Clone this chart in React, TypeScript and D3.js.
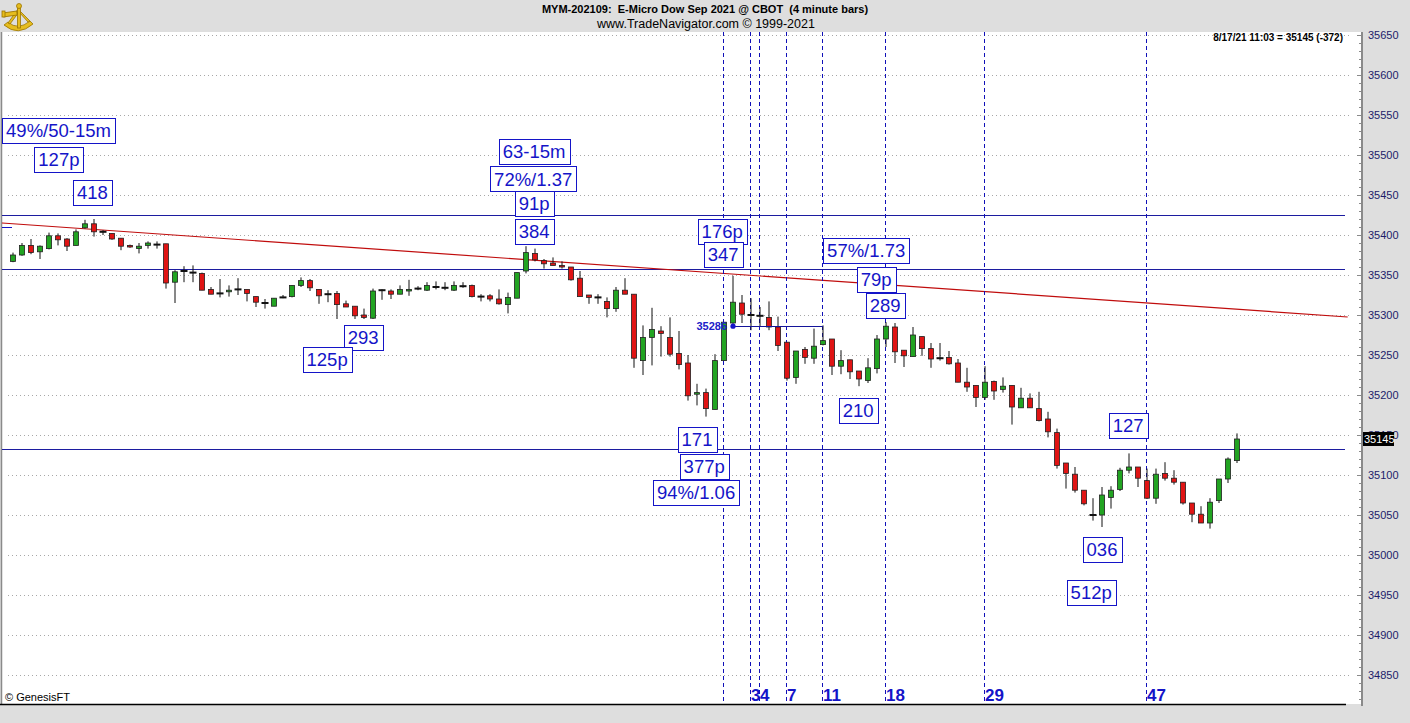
import React, { useEffect, useRef } from 'react';
import * as d3 from 'd3';

const W = 1410;
const H = 723;

// OHLC per 4-minute bar (index 0..136)
const opens = [35367,35375,35387,35379,35383,35399,35395,35387,35409,35414,35404,35402,35396,35387,35383,35387,35388,35389,35341,35355,35353,35352,35332,35327,35329,35332,35332,35323,35315,35311,35322,35323,35337,35343,35332,35326,35327,35314,35311,35300,35296,35331,35330,35326,35330,35333,35331,35335,35334,35331,35336,35337,35323,35324,35320,35313,35321,35355,35377,35368,35365,35362,35360,35346,35325,35322,35317,35308,35331,35326,35243,35272,35280,35272,35252,35240,35201,35203,35182,35243,35290,35315,35300,35299,35297,35285,35266,35222,35257,35246,35263,35270,35236,35244,35230,35218,35233,35270,35285,35256,35248,35273,35258,35246,35247,35240,35216,35212,35197,35217,35207,35212,35184,35196,35183,35170,35153,35115,35101,35081,35050,35050,35072,35082,35106,35110,35093,35071,35102,35096,35091,35065,35051,35040,35068,35095,35118];
const highs = [35378,35390,35395,35387,35403,35402,35396,35407,35419,35420,35406,35402,35396,35388,35390,35392,35392,35389,35356,35361,35362,35353,35335,35345,35337,35346,35332,35323,35320,35321,35325,35337,35347,35345,35332,35331,35330,35318,35311,35308,35333,35332,35332,35337,35344,35336,35341,35342,35341,35342,35341,35338,35326,35326,35332,35328,35353,35386,35383,35370,35372,35367,35360,35355,35325,35326,35322,35335,35346,35326,35287,35309,35286,35297,35280,35250,35214,35208,35251,35291,35349,35325,35321,35310,35317,35298,35266,35255,35260,35283,35287,35270,35256,35244,35230,35246,35275,35291,35290,35256,35285,35273,35265,35265,35255,35245,35234,35212,35236,35218,35222,35212,35209,35202,35204,35179,35158,35115,35110,35081,35071,35085,35086,35109,35127,35110,35108,35108,35116,35106,35091,35065,35061,35071,35095,35122,35152];
const lows = [35366,35374,35376,35370,35382,35387,35380,35387,35408,35398,35400,35394,35381,35384,35377,35383,35383,35333,35315,35341,35341,35331,35326,35322,35323,35325,35317,35310,35308,35311,35321,35322,35335,35330,35314,35316,35295,35310,35295,35295,35295,35319,35320,35326,35324,35331,35330,35332,35331,35330,35334,35322,35317,35317,35313,35302,35321,35352,35367,35358,35362,35358,35343,35323,35314,35314,35297,35304,35326,35234,35225,35237,35248,35248,35232,35193,35187,35173,35182,35243,35289,35290,35281,35285,35281,35255,35218,35214,35239,35239,35262,35225,35226,35220,35211,35215,35227,35260,35240,35235,35248,35249,35234,35243,35238,35216,35204,35185,35194,35194,35203,35163,35184,35184,35167,35147,35108,35083,35078,35062,35043,35035,35058,35080,35102,35085,35070,35064,35093,35088,35063,35041,35040,35033,35065,35090,35115];
const closes = [35375,35387,35378,35386,35399,35394,35386,35404,35414,35404,35404,35395,35386,35385,35386,35390,35388,35340,35354,35355,35353,35331,35326,35327,35331,35332,35327,35316,35315,35321,35322,35337,35343,35334,35324,35326,35313,35310,35299,35297,35330,35331,35326,35332,35332,35333,35337,35335,35334,35337,35336,35323,35323,35320,35314,35322,35353,35378,35369,35364,35362,35360,35344,35323,35322,35322,35308,35331,35326,35246,35272,35282,35277,35251,35238,35199,35203,35183,35243,35291,35316,35301,35300,35299,35285,35262,35221,35255,35247,35261,35268,35236,35243,35229,35220,35234,35270,35286,35254,35249,35275,35258,35245,35246,35239,35216,35210,35197,35216,35205,35211,35185,35196,35184,35168,35154,35112,35102,35081,35064,35050,35075,35081,35106,35110,35096,35071,35101,35096,35091,35065,35051,35040,35066,35095,35120,35145];

const yTicks = [34850,34900,34950,35000,35050,35100,35150,35200,35250,35300,35350,35400,35450,35500,35550,35600,35650];

// horizontal support / resistance levels
const hLevels = [35425, 35357.5, 35132];
// trend line endpoints (bar index, price)
const trendIdx = [-1.45, 148.3];
const trendPrice = [35415, 35297.5];

// vertical time markers
const vIdx = [79, 82, 83, 86, 90, 97, 108, 126];
const vLabels = ['', '3', '4', '7', '11', '18', '29', '47'];

// boxed annotations
const annTexts = ['49%/50-15m','127p','418','63-15m','72%/1.37','91p','384','176p','347','57%/1.73','79p','289','210','293','125p','171','377p','94%/1.06','127','036','512p'];
const annIdx = [5.06,5.1,8.83,57.9,57.8,57.9,57.9,78.8,78.9,94.8,95.9,96.9,93.9,38.9,34.9,76,76.8,75.9,123.9,121,119.8];
const annPrice = [35530.6,35494.4,35453.1,35505,35470,35439.4,35404,35405,35375.6,35380.6,35345,35311.9,35180.6,35271.9,35244.4,35145,35110.6,35078,35161.9,35007.5,34953];

// pivot marker
const markerPrice = 35286;
const markerFrom = 80;
const markerTo = 90;

const lastPrice = 35145;

export default function App() {
  const ref = useRef<SVGSVGElement | null>(null);

  useEffect(() => {
    const svg = d3.select(ref.current);
    svg.selectAll('*').remove();

    const plotL = 2, plotR = 1362, plotT = 32, plotB = 704;
    const x = d3.scaleLinear().domain([0, 136]).range([13, 1237]);
    const y = d3.scaleLinear().domain([34850, 35650]).range([675, 35]);
    const font = 'Arial, Liberation Sans, sans-serif';

    svg.append('rect').attr('width', W).attr('height', H).attr('fill', '#dedede');
    svg.append('rect').attr('x', plotL).attr('y', plotT).attr('width', plotR - plotL).attr('height', plotB - plotT).attr('fill', '#ffffff');
    svg.append('line').attr('x1', 1.5).attr('x2', 1.5).attr('y1', plotT).attr('y2', plotB).attr('stroke', '#8a8a8a').attr('stroke-width', 1.5);

    // dotted gridlines
    svg.append('g').selectAll('line').data(yTicks).join('line')
      .attr('x1', 8).attr('x2', 1352)
      .attr('y1', d => Math.round(y(d)) + 0.5).attr('y2', d => Math.round(y(d)) + 0.5)
      .attr('stroke', '#a8a8a8').attr('stroke-width', 1).attr('stroke-dasharray', '1,3');

    // horizontal levels
    svg.append('g').selectAll('line').data(hLevels).join('line')
      .attr('x1', plotL).attr('x2', 1345)
      .attr('y1', d => Math.round(y(d)) + 0.5).attr('y2', d => Math.round(y(d)) + 0.5)
      .attr('stroke', '#1c1ca0').attr('stroke-width', 1);
    svg.append('line').attr('x1', plotL).attr('x2', 12).attr('y1', Math.round(y(35410)) + 0.5).attr('y2', Math.round(y(35410)) + 0.5)
      .attr('stroke', '#1414c8').attr('stroke-width', 1);

    // trend line
    svg.append('line')
      .attr('x1', Math.max(plotL, x(trendIdx[0]))).attr('y1', y(trendPrice[0]))
      .attr('x2', x(trendIdx[1])).attr('y2', y(trendPrice[1]))
      .attr('stroke', '#c00c0c').attr('stroke-width', 1.2);

    // vertical dashed markers
    svg.append('g').selectAll('line').data(vIdx).join('line')
      .attr('x1', d => Math.round(x(d)) - 0.5).attr('x2', d => Math.round(x(d)) - 0.5)
      .attr('y1', plotT).attr('y2', plotB)
      .attr('stroke', '#1010b8').attr('stroke-width', 1).attr('stroke-dasharray', '4,3');

    // candles
    const idx = d3.range(opens.length);
    const g = svg.append('g');
    g.selectAll('line.w').data(idx).join('line')
      .attr('class', 'w')
      .attr('x1', i => x(i)).attr('x2', i => x(i))
      .attr('y1', i => y(highs[i])).attr('y2', i => y(lows[i]))
      .attr('stroke', '#111').attr('stroke-width', 1);
    const bw = 5;
    idx.forEach(i => {
      const o = opens[i], c = closes[i];
      if (Math.abs(o - c) < 1.5) {
        g.append('rect').attr('x', x(i) - 3.5).attr('y', y(c) - 1).attr('width', 7).attr('height', 2).attr('fill', '#111');
      } else {
        const top = y(Math.max(o, c));
        const bot = y(Math.min(o, c));
        g.append('rect')
          .attr('x', x(i) - bw / 2).attr('y', top).attr('width', bw).attr('height', bot - top)
          .attr('fill', c > o ? '#22a422' : '#e01414')
          .attr('stroke', '#202020').attr('stroke-width', 0.8);
      }
    });

    // pivot marker
    svg.append('line').attr('x1', x(markerFrom)).attr('x2', x(markerTo))
      .attr('y1', Math.round(y(markerPrice)) + 0.5).attr('y2', Math.round(y(markerPrice)) + 0.5)
      .attr('stroke', '#14149a').attr('stroke-width', 1);
    svg.append('circle').attr('cx', x(markerFrom)).attr('cy', y(markerPrice)).attr('r', 2.6).attr('fill', '#1414c8');
    svg.append('text').attr('x', x(markerFrom) - 6).attr('y', y(markerPrice) + 4)
      .attr('text-anchor', 'end').attr('font-family', font)
      .attr('font-size', 11).attr('font-weight', 'bold').attr('fill', '#2020c8').text(String(markerPrice));

    // annotation boxes
    annTexts.forEach((t, k) => {
      const cx = x(annIdx[k]);
      const cy = y(annPrice[k]);
      const ag = svg.append('g');
      const rect = ag.append('rect');
      const tx = ag.append('text').attr('x', cx).attr('y', cy + 6.5)
        .attr('text-anchor', 'middle')
        .attr('font-family', font)
        .attr('font-size', 18.5).attr('fill', '#1414c8').text(t);
      const bb = (tx.node() as SVGTextElement).getBBox();
      const w = bb.width + 8;
      rect.attr('x', Math.round(cx - w / 2) + 0.5).attr('y', Math.round(cy - 12.5) + 0.5).attr('width', Math.round(w)).attr('height', 25)
        .attr('fill', '#ffffff').attr('stroke', '#1414c8').attr('stroke-width', 1);
    });

    // bottom labels
    svg.append('g').selectAll('text').data(vIdx.map((d, k) => k)).join('text')
      .attr('x', k => Math.round(x(vIdx[k]))).attr('y', 701)
      .attr('font-family', font).attr('font-weight', 'bold')
      .attr('font-size', 17).attr('fill', '#1414c8')
      .text(k => vLabels[k]);

    // bottom axis line
    svg.append('line').attr('x1', 0).attr('x2', 1346).attr('y1', 704.5).attr('y2', 704.5)
      .attr('stroke', '#000').attr('stroke-width', 1.6);

    // right axis
    svg.append('line').attr('x1', 1362).attr('x2', 1362).attr('y1', plotT).attr('y2', 706)
      .attr('stroke', '#8a8a8a').attr('stroke-width', 2);
    const minor = d3.range(34820, 35660, 10);
    svg.append('g').selectAll('line').data(minor).join('line')
      .attr('x1', d => (d % 50 === 0 ? 1357 : 1359)).attr('x2', 1362)
      .attr('y1', d => Math.round(y(d)) + 0.5).attr('y2', d => Math.round(y(d)) + 0.5)
      .attr('stroke', '#8a8a8a').attr('stroke-width', 1);
    svg.append('g').selectAll('text').data(yTicks).join('text')
      .attr('x', 1368).attr('y', d => y(d) + 4)
      .attr('font-family', font).attr('font-size', 11)
      .attr('fill', '#1c1c6a').text(d => String(d));

    // last price tag (covers the 35150 label as in the original)
    svg.append('rect').attr('x', 1363).attr('y', y(lastPrice) - 7).attr('width', 31).attr('height', 14).attr('fill', '#000');
    svg.append('text').attr('x', 1364).attr('y', y(lastPrice) + 4)
      .attr('font-family', font).attr('font-size', 11)
      .attr('fill', '#fff').text(String(lastPrice));

    // texts
    svg.append('text').attr('x', 1343).attr('y', 41).attr('text-anchor', 'end')
      .attr('font-family', font).attr('font-size', 10).attr('font-weight', 'bold')
      .attr('fill', '#000').text('8/17/21 11:03 = 35145 (-372)');
    svg.append('text').attr('x', 705).attr('y', 13).attr('text-anchor', 'middle')
      .attr('font-family', font).attr('font-size', 11).attr('font-weight', 'bold')
      .attr('fill', '#000').style('white-space', 'pre')
      .text('MYM-202109:  E-Micro Dow Sep 2021 @ CBOT  (4 minute bars)');
    svg.append('text').attr('x', 706).attr('y', 28).attr('text-anchor', 'middle')
      .attr('font-family', font).attr('font-size', 12.5)
      .attr('fill', '#000').text('www.TradeNavigator.com © 1999-2021');
    svg.append('text').attr('x', 5).attr('y', 701)
      .attr('font-family', font).attr('font-size', 11)
      .attr('fill', '#000').text('© GenesisFT');

    // logo (sextant)
    const lg = svg.append('g').attr('fill', '#e6bd1e').attr('stroke', '#9a7400').attr('stroke-width', 0.8);
    lg.append('path').attr('d', 'M4,25 Q18,37 33,24 L30,21 Q18,31 8,22 Z');
    lg.append('path').attr('d', 'M18,9 L8,23 L10,24 L19,12 L28,22 L30,21 Z');
    lg.append('rect').attr('x', 17.5).attr('y', 6).attr('width', 3).attr('height', 22);
    lg.append('circle').attr('cx', 19).attr('cy', 6).attr('r', 2.5);
    lg.append('rect').attr('x', 3).attr('y', 12).attr('width', 14).attr('height', 4).attr('transform', 'rotate(-8 10 14)');
    lg.append('rect').attr('x', 2).attr('y', 11).attr('width', 3).attr('height', 6);
  }, []);

  return (
    <svg ref={ref} width={W} height={H} style={{ position: 'absolute', left: 0, top: 0, display: 'block' }} />
  );
}
